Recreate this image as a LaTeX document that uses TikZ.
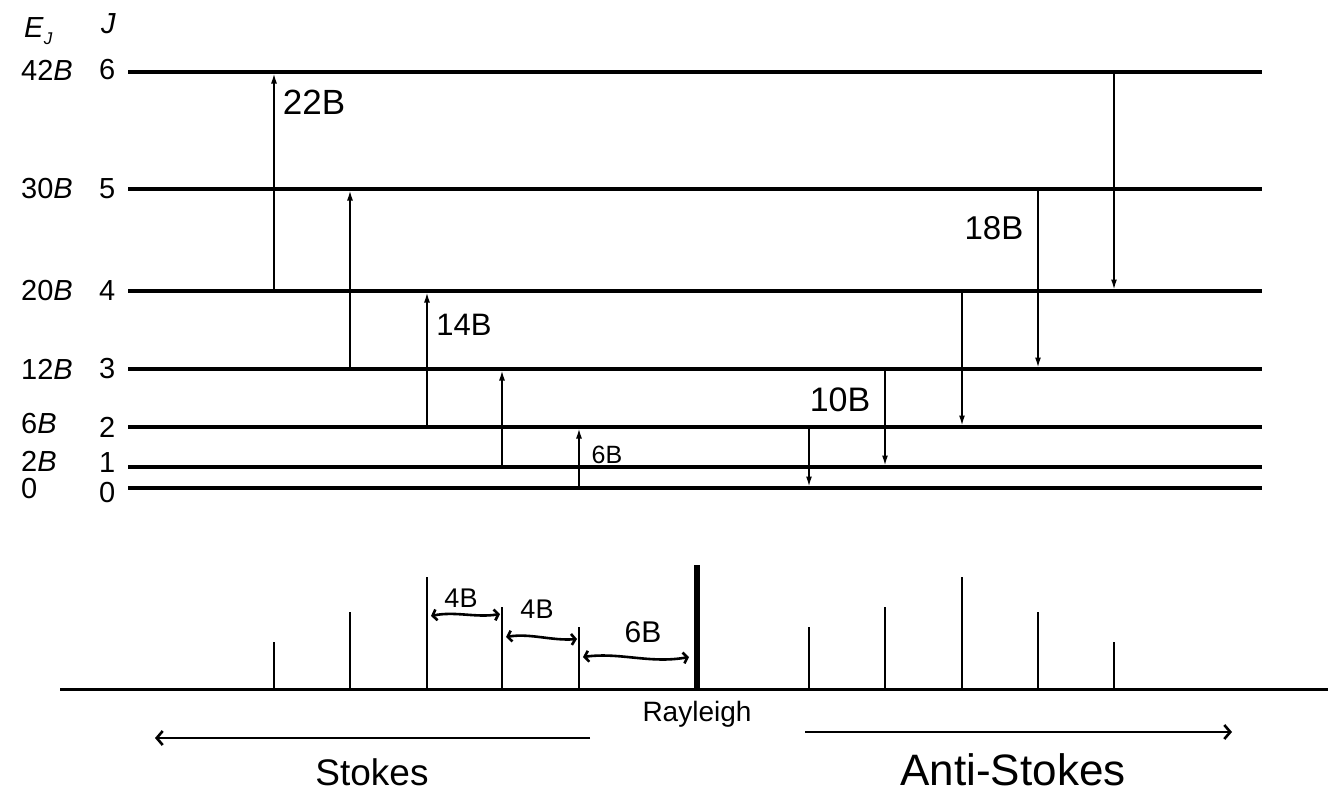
\documentclass[tikz,border=0pt]{standalone}
\usepackage{fontspec}
\setmainfont{Liberation Sans}
\usetikzlibrary{arrows.meta}

\tikzset{
	level/.style={line width=3.2pt},
	trans/.style={line width=1.6pt, -{Latex[length=10pt,width=6pt]}},
	peak/.style={line width=2.4pt},
	lab/.style={inner sep=0pt, anchor=west, font=\fontsize{29}{32}\selectfont},
	hand/.style={inner sep=0pt, font=\fontsize{#1}{#1}\selectfont},
	gap/.style={line width=2.6pt, {Straight Barb[length=4pt,width=11pt]}-{Straight Barb[length=4pt,width=11pt]}},
	side/.style={line width=2.6pt}
}

\begin{document}
\begin{tikzpicture}[x=1pt, y=-1pt]

	\useasboundingbox (0,0) rectangle (1334,811);

	%levels

	\node[lab] (EJ) at (24,31) {\textit{E}\raisebox{-7pt}{\fontsize{17}{17}\selectfont\textit{J}}};
	\node[lab] (Jhead) at (101,24) {\textit{J}};
	\foreach \J/\y/\ey/\jy/\E in {6/72/70/70/{42\textit{B}}, 5/189/189/189/{30\textit{B}}, 4/291/291/291/{20\textit{B}}, 3/369/369/369/{12\textit{B}}, 2/427/424/427/{6\textit{B}}, 1/467/461/463/{2\textit{B}}, 0/488/489/493/{0}}
	{
		\node[lab] (E\J) at (21,\ey) {\E};
		\node[lab] (n\J) at (99,\jy) {\J};
		\coordinate (L\J) at (128,\y);
		\coordinate (R\J) at (1262,\y);
		\draw[level] (L\J) -- (R\J);
	}

	%transitions

	\foreach \x/\a/\b in {274/4/6, 350/3/5, 427/2/4, 502/1/3, 579/0/2, 809/2/0, 885/3/1, 962/4/2, 1038/5/3, 1114/6/4}
		\draw[trans, shorten >=1.5pt] (\x,0 |- L\a) -- (\x,0 |- L\b);

	\node[hand=35] (d22) at (314,102) {22B};
	\node[hand=31] (d14) at (464,325) {14B};
	\node[hand=25] (d6) at (607,455) {6B};
	\node[hand=34] (d10) at (840,400) {10B};
	\node[hand=33] (d18) at (994,228) {18B};

	%spectrum

	\coordinate (base0) at (60,689);
	\coordinate (base1) at (1328,689);
	\draw[line width=3pt] (base0) -- (base1);
	\foreach \x/\t in {274/642, 350/612, 427/577, 502/607, 579/627, 809/627, 885/607, 962/577, 1038/612, 1114/642}
	{
		\coordinate (pk\x) at (\x,\t);
		\draw[peak] (\x,0 |- base0) -- (pk\x);
	}
	\coordinate (ray) at (697,565);
	\draw[line width=6.5pt] (697,0 |- base0) -- (ray);

	\coordinate (g1a) at (431,616);
	\coordinate (g1b) at (500,614);
	\coordinate (g2a) at (506,637);
	\coordinate (g2b) at (577,639);
	\coordinate (g3a) at (583,657);
	\coordinate (g3b) at (689,657);
	\draw[gap] (g1a) .. controls (455,611) and (476,618) .. (g1b);
	\draw[gap] (g2a) .. controls (530,633) and (552,641) .. (g2b);
	\draw[gap] (g3a) .. controls (620,652) and (650,664) .. (g3b);
	\node[hand=27] (w1) at (461,598) {4B};
	\node[hand=27] (w2) at (537,609) {4B};
	\node[hand=30] (w3) at (643,632) {6B};

	\node[hand=28] (rayl) at (697,714) {Rayleigh};

	%stokes / anti-stokes

	\coordinate (st0) at (590,738);
	\coordinate (st1) at (155,738);
	\coordinate (as0) at (805,732);
	\coordinate (as1) at (1232,732);
	\draw[side, -{Straight Barb[length=6pt,width=14pt]}] (st0) -- (st1);
	\draw[side, -{Straight Barb[length=6pt,width=14pt]}] (as0) -- (as1);
	\node[hand=37] (stokes) at (372,772) {Stokes};
	\node[hand=44] (anti) at (1013,770) {Anti-Stokes};

\end{tikzpicture}
\end{document}
